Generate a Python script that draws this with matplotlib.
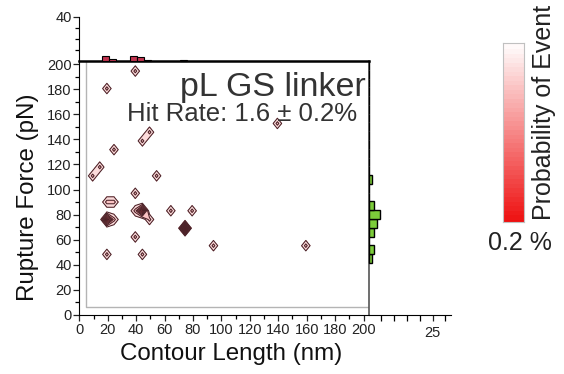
import matplotlib
matplotlib.use("Agg")
import matplotlib.pyplot as plt
import numpy as np
from matplotlib.colors import LinearSegmentedColormap, Normalize

plt.rcParams["font.family"] = ["Liberation Sans", "DejaVu Sans"]

# unbinding events (contour length nm, rupture force pN)
event_length = [39, 20, 140, 44, 49, 24, 9, 14, 54, 39, 19, 24,
                19, 19, 19, 24, 39, 44, 44, 44, 49, 64, 79,
                74, 74, 74, 74, 39, 94, 159, 19, 44]
event_force = [195, 181, 153, 139, 146, 132, 111, 118, 111, 97, 90, 90,
               76, 76, 76, 76, 83, 83, 83, 83, 76, 83, 83,
               69, 69, 69, 69, 62, 55, 55, 48, 48]
n_traces = 2000

# marginal histograms
top_edges = [15.8, 20.8, 35.8, 40.8, 45.8, 70.8]
top_values = [4.5, 2.0, 4.5, 3.5, 1.0, 0.8]
right_edges = list(41.5 + 7 * np.arange(23))
right_values = [1.2, 2.3, 0.3, 2.3, 3.4, 4.6, 2.0, 0.3, 0.3, 1.5, 0.3, 0.0,
                0.3, 0.3, 0.3, 0.3, 0.0, 0.0, 0.0, 0.3, 0.3, 0.0, 0.3]

# binning grid of the probability map
grid_x = 4.4 + 5.0 * np.arange(41)
grid_y = 6.55 + 6.96 * np.arange(30)
levels = np.arange(1, 11) * 0.02
prob_max = 0.2

W, H = 564, 374
fig = plt.figure(figsize=(W / 100, H / 100), dpi=100)


def frac(x0, y0, x1, y1):
    return [x0 / W, 1 - y1 / H, (x1 - x0) / W, (y1 - y0) / H]


ax = fig.add_axes(frac(79.3, 61, 368.5, 315))
ax_top = fig.add_axes(frac(79.3, 17, 368.5, 61))
ax_right = fig.add_axes(frac(368.5, 61, 450.5, 315))
cax = fig.add_axes(frac(502.7, 43, 524, 222))

cmap = LinearSegmentedColormap.from_list("wr", ["#ffffff", "#ee1010"])
norm = Normalize(0, prob_max)

# probability map
dx, dy = grid_x[1] - grid_x[0], grid_y[1] - grid_y[0]
xe = np.append(grid_x - dx / 2, grid_x[-1] + dx / 2)
ye = np.append(grid_y - dy / 2, grid_y[-1] + dy / 2)
counts, _, _ = np.histogram2d(event_length, event_force, bins=[xe, ye])
prob = counts.T / n_traces * 100
lv = levels.copy()
lv[-1] += 1e-9
ax.contourf(grid_x, grid_y, prob, levels=lv, cmap=cmap, norm=norm,
            algorithm="serial")
ax.contour(grid_x, grid_y, prob, levels=lv, colors="#4a2228", linewidths=0.75,
           algorithm="serial")
ax.plot([grid_x[0], grid_x[0], grid_x[-1]], [grid_y[-1], grid_y[0], grid_y[0]],
        color="#b4b4b4", lw=1)

ax.set_xlim(0, 203.5)
ax.set_ylim(0, 202.5)
ax.set_xticks(np.arange(0, 201, 20))
ax.set_xticks(np.arange(10, 201, 20), minor=True)
ax.set_yticks(np.arange(0, 201, 20))
ax.set_yticks(np.arange(10, 201, 20), minor=True)
ax.tick_params(which="major", length=4, width=0.9, labelsize=10.5,
               colors="#222222", pad=1.5)
ax.tick_params(which="minor", length=3, width=0.9)
ax.spines["top"].set_linewidth(1.8)
ax.spines["right"].set_color("#555555")
ax.spines["right"].set_linewidth(1.2)

ax.text(0.99, 0.864, "pL GS linker", transform=ax.transAxes, ha="right",
        va="baseline", fontsize=24.5, color="#333333")
ax.text(0.96, 0.764, "Hit Rate: 1.6 \u00b1 0.2%", transform=ax.transAxes,
        ha="right", va="baseline", fontsize=18.5, color="#333333")

# top marginal (contour length)
ax_top.bar(top_edges, top_values, width=5, align="edge", color="#c23450",
           edgecolor="black", linewidth=0.8, clip_on=False)
ax_top.set_xlim(0, 203.5)
ax_top.set_ylim(0, 40)
ax_top.set_yticks([40])
ax_top.set_yticks([10, 20, 30], minor=True)
ax_top.set_xticks([])
ax_top.tick_params(which="major", length=4, width=0.9, labelsize=10.5,
                   colors="#222222", pad=1.5)
ax_top.tick_params(which="minor", length=3, width=0.9)
for s in ["top", "right", "bottom"]:
    ax_top.spines[s].set_visible(False)
ax_top.patch.set_alpha(0)

# right marginal (rupture force)
ax_right.barh(right_edges, right_values, height=7, align="edge",
              color="#7ccc3a", edgecolor="black", linewidth=1, clip_on=False)
ax_right.set_ylim(0, 202.5)
ax_right.set_xlim(0, 32)
ax_right.set_yticks([])
ax_right.set_xticks([25])
ax_right.set_xticks([5, 10, 15, 20, 30], minor=True)
ax_right.tick_params(which="major", length=4, width=0.9, labelsize=10.5,
                     colors="#222222", pad=4)
ax_right.tick_params(which="minor", length=4, width=0.9)
for s in ["top", "right", "left"]:
    ax_right.spines[s].set_visible(False)
ax_right.patch.set_alpha(0)

# colour bar
steps = np.linspace(0, prob_max, 41)
cax.pcolormesh([0, 1], steps, steps[::-1][:-1, None], cmap=cmap, norm=norm,
               edgecolors="face")
cax.set_xlim(0, 1)
cax.set_ylim(0, prob_max)
cax.set_xticks([])
cax.set_yticks([])
for s in cax.spines.values():
    s.set_color("#c0c0c0")
    s.set_linewidth(0.8)

fig.text(543.5 / W, 1 - 112 / H, "Probability of Event", rotation=90,
         ha="center", va="center", fontsize=18, color="#222222")
fig.text(519.5 / W, 1 - 243 / H, "0.2 %", ha="center", va="center",
         fontsize=18, color="#222222")
fig.text(28 / W, 1 - 197 / H, "Rupture Force (pN)", rotation=90,
         ha="center", va="center", fontsize=17.4, color="#111111")
fig.text(231 / W, 1 - 354 / H, "Contour Length (nm)", ha="center",
         va="center", fontsize=17.4, color="#111111")

fig.savefig("out.png", dpi=100)
